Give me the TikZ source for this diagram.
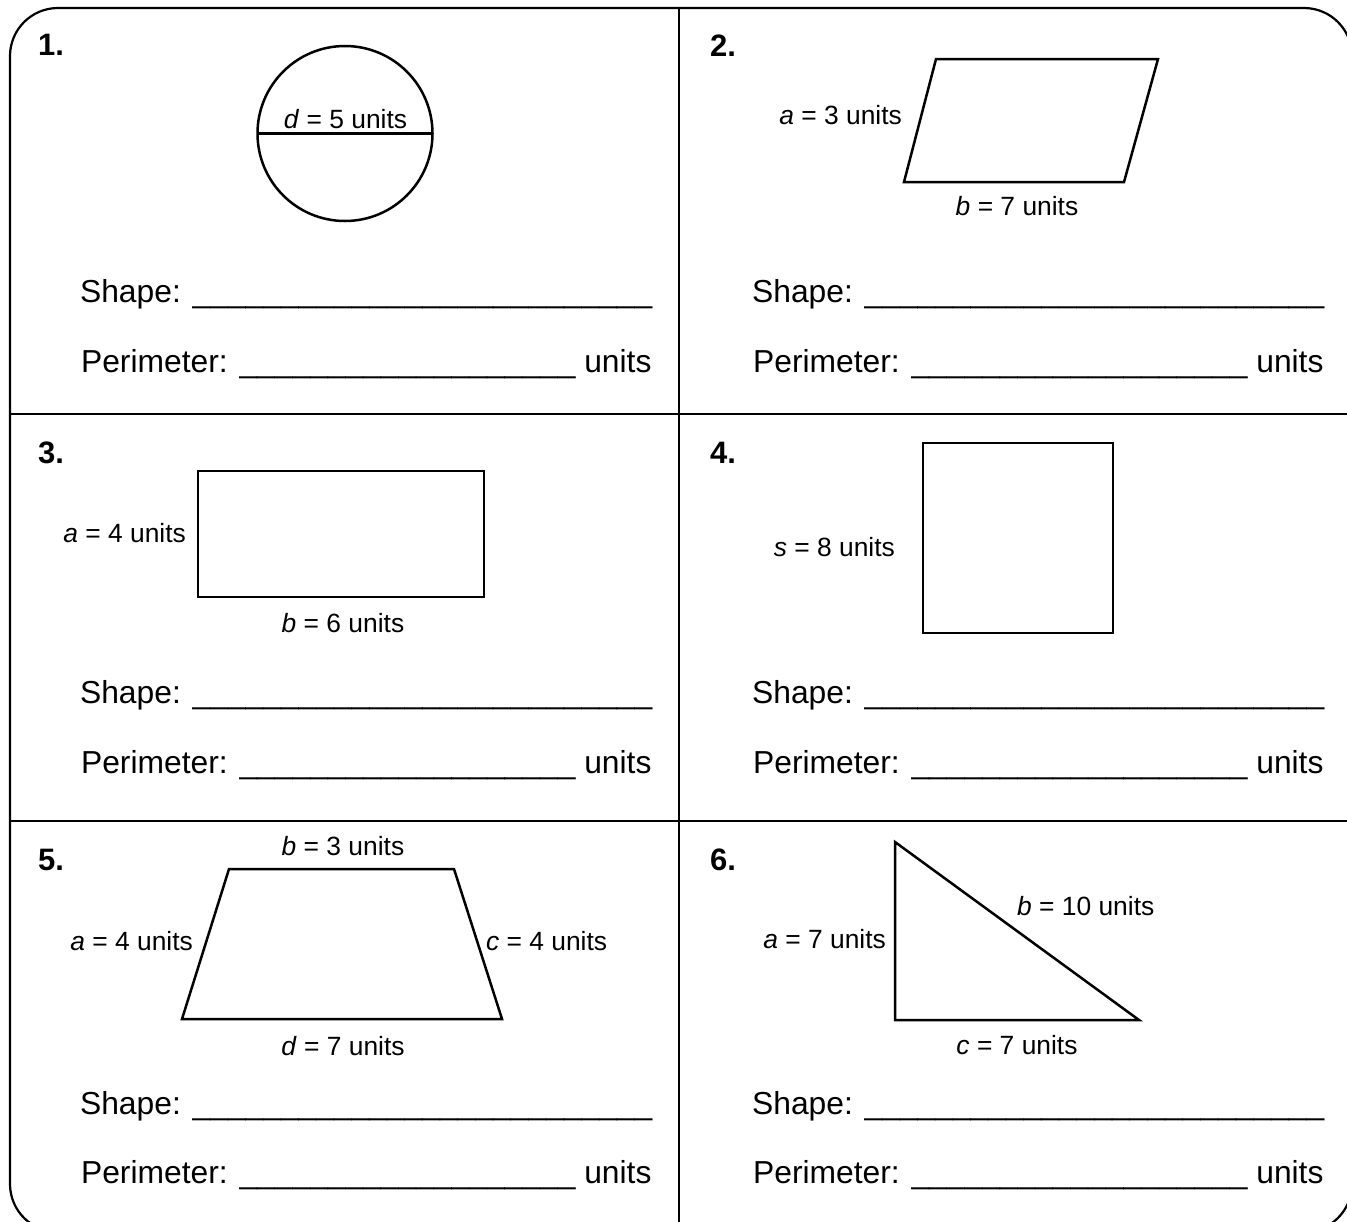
\documentclass[tikz,border=0pt]{standalone}
\usepackage{fontspec}
\setmainfont{Liberation Sans}
\newcommand\usline[1]{\foreach\k in {1,...,#1}{\_}}
\begin{document}
\begin{tikzpicture}[x=0.5pt,y=-0.5pt,line width=1.1pt,
  lbl/.style={inner sep=0pt,font=\fontsize{13.2}{15}\selectfont},
  txt/.style={inner sep=0pt,anchor=base west,font=\fontsize{15.9}{19}\selectfont},
  num/.style={inner sep=0pt,anchor=base west,font=\fontsize{15.5}{18}\selectfont\bfseries},
  shp/.style={line width=1.25pt,line join=miter},
  grid/.style={line width=1.1pt}]
\useasboundingbox (0,0) rectangle (1347,1221);
\clip (0,0) rectangle (1347,1221);
% frame and grid
\draw[grid,rounded corners=24pt] (10,8) rectangle (1352,1232);
\coordinate (vt) at (679,8);
\coordinate (vb) at (679,1232);
\draw[grid] (vt) -- (vb);
\coordinate (h1l) at (10,414);
\coordinate (h1r) at (1352,414);
\coordinate (h2l) at (10,821);
\coordinate (h2r) at (1352,821);
\draw[grid] (h1l) -- (h1r);
\draw[grid] (h2l) -- (h2r);

% ---------- panel 1 ----------
\node[num] (n1) at (37,55) {1.};
\coordinate (c1) at (345,133.5);
\draw[shp] (c1) circle[radius=87.5];
\coordinate (dl) at (257.5,133.5);
\coordinate (dr) at (432.5,133.5);
\draw[shp] (dl) -- (dr);
\node[lbl,anchor=base] (l1) at (345.5,128) {\textit{d} = 5 units};
\node[txt] (s1) at (79,302) {Shape: \usline{26}};
\node[txt] (p1) at (80,372) {Perimeter: \usline{19} units};

% ---------- panel 2 ----------
\node[num] (n2) at (709,56) {2.};
\coordinate (pa) at (936,59);
\coordinate (pb) at (1158,59);
\coordinate (pc) at (1124,182);
\coordinate (pd) at (904,182);
\draw[shp] (pa) -- (pb) -- (pc) -- (pd) -- cycle;
\node[lbl,anchor=base east] (l2a) at (903,124) {\textit{a} = 3 units};
\node[lbl,anchor=base] (l2b) at (1017,215) {\textit{b} = 7 units};
\node[txt] (s2) at (751,302) {Shape: \usline{26}};
\node[txt] (p2) at (752,372) {Perimeter: \usline{19} units};

% ---------- panel 3 ----------
\node[num] (n3) at (37,463) {3.};
\coordinate (ra) at (198,471);
\coordinate (rb) at (484,597);
\draw[shp] (ra) rectangle (rb);
\node[lbl,anchor=base east] (l3a) at (187,542) {\textit{a} = 4 units};
\node[lbl,anchor=base] (l3b) at (343,632) {\textit{b} = 6 units};
\node[txt] (s3) at (79,703) {Shape: \usline{26}};
\node[txt] (p3) at (80,773) {Perimeter: \usline{19} units};

% ---------- panel 4 ----------
\node[num] (n4) at (709,463) {4.};
\coordinate (qa) at (923,443);
\coordinate (qb) at (1113,633);
\draw[shp] (qa) rectangle (qb);
\node[lbl,anchor=base east] (l4s) at (896,556) {\textit{s} = 8 units};
\node[txt] (s4) at (751,703) {Shape: \usline{26}};
\node[txt] (p4) at (752,773) {Perimeter: \usline{19} units};

% ---------- panel 5 ----------
\node[num] (n5) at (37,870) {5.};
\coordinate (ta) at (229,869);
\coordinate (tb) at (454,869);
\coordinate (tc) at (502,1019);
\coordinate (td) at (182,1019);
\draw[shp] (ta) -- (tb) -- (tc) -- (td) -- cycle;
\node[lbl,anchor=base] (l5b) at (343,855) {\textit{b} = 3 units};
\node[lbl,anchor=base east] (l5a) at (194,950) {\textit{a} = 4 units};
\node[lbl,anchor=base west] (l5c) at (485,950) {\textit{c} = 4 units};
\node[lbl,anchor=base] (l5d) at (343,1055) {\textit{d} = 7 units};
\node[txt] (s5) at (79,1114) {Shape: \usline{26}};
\node[txt] (p5) at (80,1183) {Perimeter: \usline{19} units};

% ---------- panel 6 ----------
\node[num] (n6) at (709,870) {6.};
\coordinate (ga) at (895,842);
\coordinate (gb) at (895,1020);
\coordinate (gc) at (1139,1020);
\draw[shp] (ga) -- (gb) -- (gc) -- cycle;
\node[lbl,anchor=base west] (l6b) at (1016,915) {\textit{b} = 10 units};
\node[lbl,anchor=base east] (l6a) at (887,948) {\textit{a} = 7 units};
\node[lbl,anchor=base] (l6c) at (1017,1054) {\textit{c} = 7 units};
\node[txt] (s6) at (751,1114) {Shape: \usline{26}};
\node[txt] (p6) at (752,1183) {Perimeter: \usline{19} units};
\end{tikzpicture}
\end{document}
